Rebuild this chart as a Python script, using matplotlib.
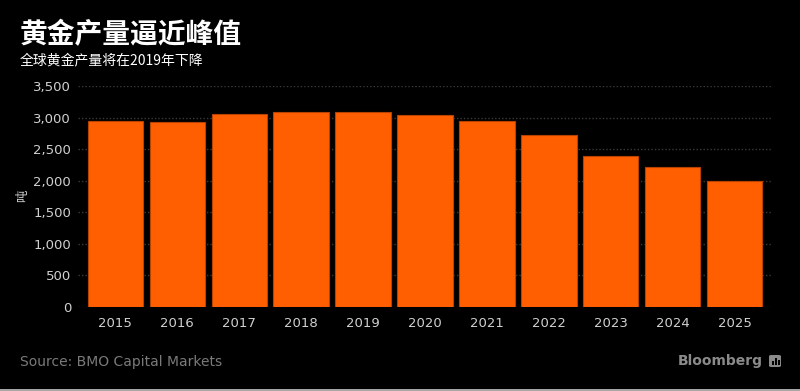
import matplotlib
matplotlib.use("Agg")
import matplotlib.pyplot as plt
from matplotlib.patches import Rectangle, FancyBboxPatch
from matplotlib.lines import Line2D

years = ['2015', '2016', '2017', '2018', '2019', '2020', '2021', '2022', '2023', '2024', '2025']
output = [2945, 2935, 3060, 3090, 3090, 3040, 2945, 2730, 2395, 2210, 2000]
yticks = [0, 500, 1000, 1500, 2000, 2500, 3000, 3500]

title = '黄金产量逼近峰值'
subtitle = '全球黄金产量将在2019年下降'
source = 'Source: BMO Capital Markets'

plt.rcParams['font.family'] = ['Noto Sans CJK SC', 'DejaVu Sans']

bg = '#000000'
orange = '#ff5f00'
tick_col = '#d0d0d0'

fig = plt.figure(figsize=(8, 3.91), dpi=100, facecolor=bg)
ax = fig.add_axes([0.0975, 0.2148, 0.8675, 0.5652], facecolor=bg)

x = range(len(years))
ax.bar(x, output, width=0.89, color=orange, edgecolor='#b84300', linewidth=0.8, zorder=3)

ax.set_xlim(-0.6, len(years) - 0.4)
ax.set_ylim(0, 3500)
ax.set_yticks(yticks)
ax.set_yticklabels([f'{v:,}' for v in yticks])
ax.set_xticks(list(x))
ax.set_xticklabels(years)
ax.yaxis.grid(True, color='#3a3a3a', linestyle=(0, (1, 1.5)), linewidth=1, zorder=0)
ax.tick_params(axis='both', length=0, colors=tick_col, labelsize=9.5,
               labelfontfamily='DejaVu Sans')
ax.tick_params(axis='y', pad=5)
ax.tick_params(axis='x', pad=7)
for s in ax.spines.values():
    s.set_visible(False)

# y axis unit
fig.text(16 / 800, 1 - 196 / 391, '吨', rotation=90, color=tick_col, fontsize=9,
         ha='left', va='center')

fig.text(20 / 800, 1 - 35 / 391, title, color='white', fontsize=20, fontweight='bold',
         ha='left', va='center')
fig.text(20 / 800, 1 - 60 / 391, subtitle, color='white', fontsize=10,
         ha='left', va='center')

fig.text(20 / 800, 1 - 362 / 391, source, color='#7a7a7a', fontsize=10,
         family=['DejaVu Sans'], ha='left', va='center')
fig.text(763 / 800, 1 - 361 / 391, 'Bloomberg', color='#8a8a8a', fontsize=10,
         fontweight='bold', family=['DejaVu Sans'], ha='right', va='center')

# small logo box
fig.patches.append(FancyBboxPatch((769 / 800, 1 - 367 / 391), 12 / 800, 12 / 391,
                                  boxstyle='round,pad=0,rounding_size=0.003',
                                  transform=fig.transFigure, facecolor='#8a8a8a',
                                  edgecolor='none', figure=fig))
for bx, bh in [(772, 4), (775, 7), (778, 5)]:
    fig.patches.append(Rectangle((bx / 800, 1 - 365 / 391), 1.5 / 800, bh / 391,
                                 transform=fig.transFigure, facecolor=bg,
                                 edgecolor='none', figure=fig))

fig.lines.append(Line2D([0, 1], [0.6 / 391, 0.6 / 391], transform=fig.transFigure,
                        color='#c8c8c8', linewidth=1.2, figure=fig))

fig.savefig('out.png', dpi=100, facecolor=bg)
